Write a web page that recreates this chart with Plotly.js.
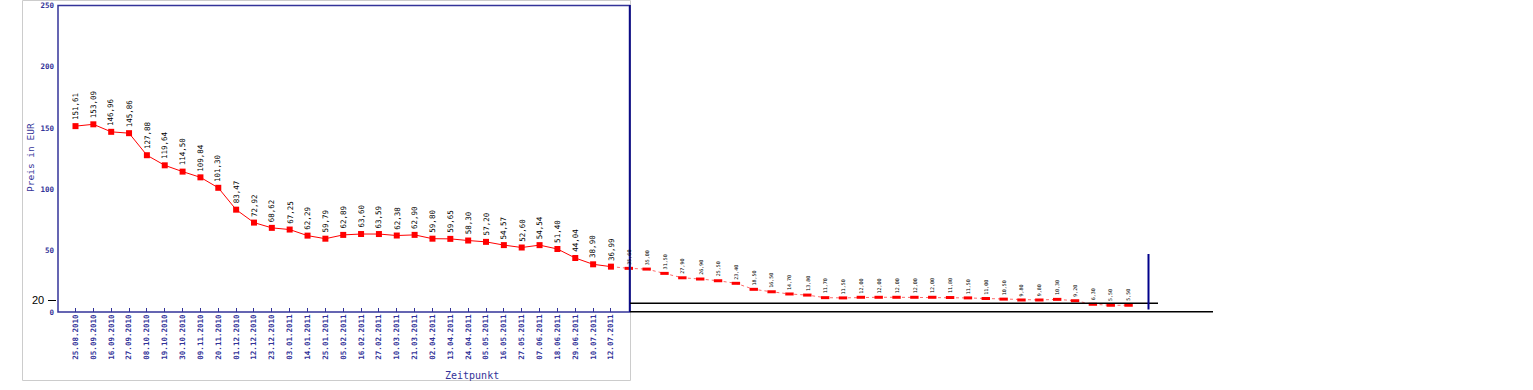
<!DOCTYPE html>
<html>
<head>
<meta charset="utf-8">
<script src="https://cdn.plot.ly/plotly-3.0.1.min.js"></script>
<style>html,body{margin:0;padding:0;background:#fff;}#chart{width:1533px;height:390px;}</style>
</head>
<body>
<div id="chart"></div>
<script>
// ---- data ----
var dates = ["25.08.2010","05.09.2010","16.09.2010","27.09.2010","08.10.2010","19.10.2010","30.10.2010","09.11.2010","20.11.2010","01.12.2010","12.12.2010","23.12.2010","03.01.2011","14.01.2011","25.01.2011","05.02.2011","16.02.2011","27.02.2011","10.03.2011","21.03.2011","02.04.2011","13.04.2011","24.04.2011","05.05.2011","16.05.2011","27.05.2011","07.06.2011","18.06.2011","29.06.2011","10.07.2011","12.07.2011"];
var prices = [151.61,153.09,146.96,145.86,127.88,119.64,114.50,109.84,101.30,83.47,72.92,68.62,67.25,62.29,59.79,62.89,63.60,63.59,62.38,62.90,59.80,59.65,58.30,57.20,54.57,52.60,54.54,51.40,44.04,38.90,36.99];
// continuation beyond the frame (read approximately)
var extraPrices = [35.6,35.0,31.5,27.9,26.9,25.5,23.4,18.5,16.5,14.7,13.8,11.7,11.5,12.0,12.0,12.0,12.0,12.0,11.8,11.5,11.0,10.5,9.8,9.8,10.3,9.2,6.3,5.5,5.5];
var yTicks = [0,50,100,150,200,250];

var W = 1533, H = 390;
function px(x){return x/W;}
function py(y){return 1 - y/H;}
var navy = 'rgb(51,51,153)';
var mono = 'DejaVu Sans Mono, monospace';

var mainX = prices.map(function(_, i){return i;});
var extraX = extraPrices.map(function(_, i){return prices.length + i;});
var fmt = function(v){return v.toFixed(2).replace('.', ',');};

var traces = [
  {x: [mainX[mainX.length-1]].concat(extraX), y: [prices[prices.length-1]].concat(extraPrices),
   mode: 'lines', line: {color: '#ff6a6a', width: 1, dash: '3px,3px'}, hoverinfo: 'skip', showlegend: false, cliponaxis: false},
  {x: extraX, y: extraPrices, mode: 'markers',
   marker: {symbol: 'line-ew', size: 6, line: {color: '#ff0000', width: 3}}, showlegend: false, cliponaxis: false},
  {x: mainX, y: prices, mode: 'lines+markers', line: {color: '#ff0000', width: 1},
   marker: {symbol: 'square', size: 6, color: '#ff0000'}, showlegend: false, cliponaxis: false}
];

var annotations = [];
prices.forEach(function(v, i){
  annotations.push({x: i, y: v, xref: 'x', yref: 'y', text: fmt(v), showarrow: false, textangle: -90,
    xanchor: 'center', yanchor: 'bottom', yshift: 4, font: {family: mono, size: 7.5, color: '#000'}});
});
extraPrices.forEach(function(v, i){
  annotations.push({x: prices.length + i, y: v, xref: 'x', yref: 'y', text: fmt(v), showarrow: false, textangle: -90,
    xanchor: 'center', yanchor: 'bottom', yshift: 2, font: {family: mono, size: 5, color: '#000'}});
});
annotations.push({x: px(30), y: py(158), xref: 'paper', yref: 'paper', text: 'Preis in EUR', showarrow: false,
  textangle: -90, xanchor: 'center', yanchor: 'middle', font: {family: mono, size: 9.5, color: navy}});
annotations.push({x: px(472), y: py(375), xref: 'paper', yref: 'paper', text: 'Zeitpunkt', showarrow: false,
  xanchor: 'center', yanchor: 'middle', font: {family: mono, size: 10, color: navy}});
annotations.push({x: px(46), y: py(300), xref: 'paper', yref: 'paper', text: '20', showarrow: false,
  xanchor: 'right', yanchor: 'middle', font: {family: 'Liberation Sans, Arial, sans-serif', size: 11, color: '#000'}});

var shapes = [
  {type: 'rect', xref: 'paper', yref: 'paper', x0: px(22.5), x1: px(630.5), y0: py(0.5), y1: py(380.5), line: {color: '#cccccc', width: 1}},
  {type: 'rect', xref: 'paper', yref: 'paper', x0: px(58), x1: px(629.5), y0: py(5.5), y1: py(312), line: {color: navy, width: 1.5}},
  {type: 'line', xref: 'paper', yref: 'paper', x0: px(630), x1: px(630), y0: py(5), y1: py(312), line: {color: '#000080', width: 1.5}},
  {type: 'line', xref: 'paper', yref: 'paper', x0: px(630), x1: px(1158), y0: py(303.3), y1: py(303.3), line: {color: '#000', width: 1.5}},
  {type: 'line', xref: 'paper', yref: 'paper', x0: px(630), x1: px(1213), y0: py(311.8), y1: py(311.8), line: {color: '#000', width: 1.5}},
  {type: 'line', xref: 'paper', yref: 'paper', x0: px(1148.5), x1: px(1148.5), y0: py(254), y1: py(309.5), line: {color: '#00008b', width: 2}},
  {type: 'line', xref: 'paper', yref: 'paper', x0: px(48), x1: px(56), y0: py(300.5), y1: py(300.5), line: {color: '#000', width: 1}}
];

var layout = {
  width: W, height: H,
  margin: {l: 0, r: 0, t: 0, b: 0},
  paper_bgcolor: '#fff', plot_bgcolor: 'rgba(0,0,0,0)',
  showlegend: false,
  xaxis: {
    domain: [px(58), px(1213)], range: [-0.98, 63.73], showgrid: false, zeroline: false, showline: false,
    tickmode: 'array', tickvals: mainX, ticktext: dates, tickangle: -90,
    ticks: 'inside', ticklen: 4, tickwidth: 1, tickcolor: navy,
    tickfont: {family: mono, size: 7.5, color: navy, weight: 'bold'}, fixedrange: true
  },
  yaxis: {
    domain: [py(312), py(5.5)], range: [0, 250], showgrid: false, zeroline: false, showline: false,
    tickmode: 'array', tickvals: yTicks, ticks: '', ticklabelstandoff: 3,
    tickfont: {family: mono, size: 7.5, color: navy, weight: 'bold'}, fixedrange: true
  },
  shapes: shapes,
  annotations: annotations
};

Plotly.newPlot('chart', traces, layout, {staticPlot: true, displayModeBar: false});
</script>
</body>
</html>
